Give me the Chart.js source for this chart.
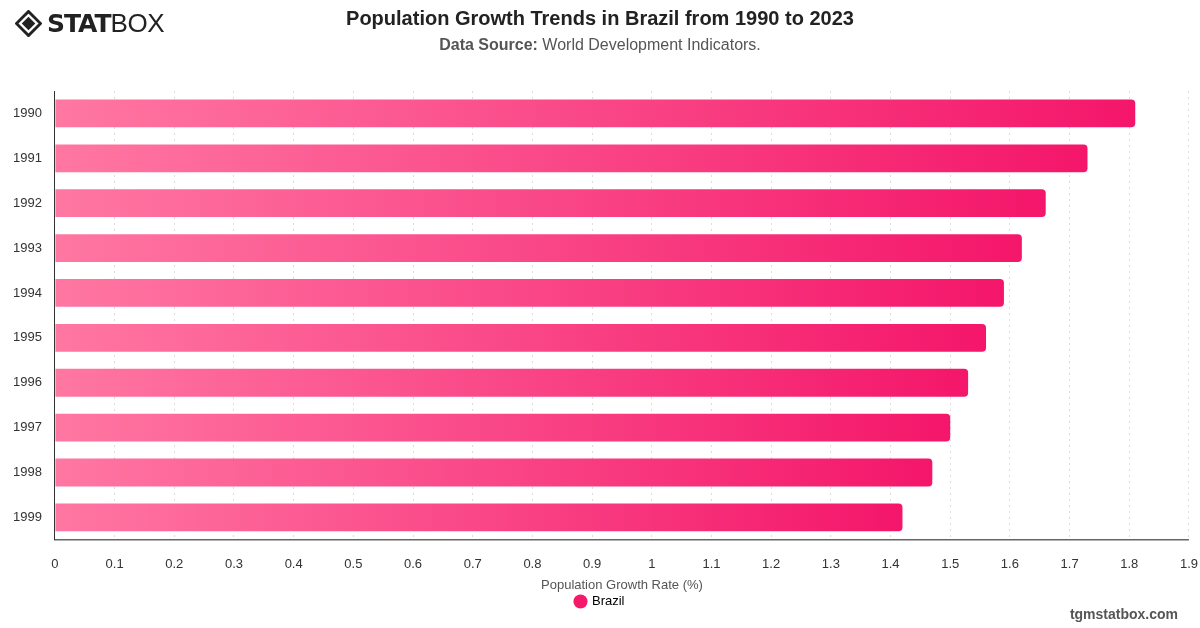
<!DOCTYPE html>
<html>
<head>
<meta charset="utf-8">
<script src="https://cdn.jsdelivr.net/npm/chart.js@4/dist/chart.umd.min.js"></script>
<style>
  html, body { margin:0; padding:0; background:#fff; }
  body { width:1200px; height:628px; position:relative; overflow:hidden; font-family:"Liberation Sans", Arial, sans-serif; }
  #wrap { position:absolute; left:0; top:0; width:1200px; height:628px; overflow:hidden; }
  .logo { position:absolute; left:15px; top:8px; height:30px; display:flex; align-items:center; color:#222; }
  .logo svg { margin-right:5px; }
  .logo .stat { font-family:"DejaVu Sans", sans-serif; font-weight:bold; font-size:25px; letter-spacing:-1px; }
  .logo .box { font-family:"Liberation Sans", sans-serif; font-size:26px; letter-spacing:-0.5px; }
  .title { position:absolute; left:0; width:1200px; top:7px; text-align:center; font-size:20px; font-weight:bold; color:#222; }
  .sub { position:absolute; left:0; width:1200px; top:36px; text-align:center; font-size:16px; color:#555; }
  .sub b { color:#555; }
  .foot { position:absolute; right:22px; top:606px; font-size:14px; font-weight:bold; color:#555; }
</style>
</head>
<body>
<!-- canvas a bit wider than the page: the extra strip on the right is cut off -->
<div id="wrap"><canvas id="popChart" width="1215" height="628"></canvas></div>
<div class="logo">
  <svg width="27" height="27" viewBox="0 0 28 28">
    <path d="M14 1.5 L26.5 14 L14 26.5 L1.5 14 Z" fill="none" stroke="#222" stroke-width="3"/>
    <path d="M14 7 L21 14 L14 21 L7 14 Z" fill="#222"/>
  </svg>
  <span class="stat">STAT</span><span class="box">BOX</span>
</div>
<div class="title">Population Growth Trends in Brazil from 1990 to 2023</div>
<div class="sub"><b>Data Source:</b> World Development Indicators.</div>
<div class="foot">tgmstatbox.com</div>
<script>
const ctx = document.getElementById('popChart');

// data
const tahun = ['1990','1991','1992','1993','1994','1995','1996','1997','1998','1999'];
const growthBrazil = [1.81, 1.73, 1.66, 1.62, 1.59, 1.56, 1.53, 1.50, 1.47, 1.42];
const xTicks = [0,0.1,0.2,0.3,0.4,0.5,0.6,0.7,0.8,0.9,1,1.1,1.2,1.3,1.4,1.5,1.6,1.7,1.8,1.9];

// gradient per bar, left light pink -> right deep pink
function barGradient(c){
  const chart = c.chart;
  const area = chart.chartArea;
  if(!area || !chart.scales.x || c.raw == null) return '#f5196c';
  const x0 = chart.scales.x.getPixelForValue(0);
  const x1 = chart.scales.x.getPixelForValue(c.raw);
  if(!isFinite(x0) || !isFinite(x1) || x1 <= x0) return '#f5196c';
  const g = chart.ctx.createLinearGradient(x0, 0, x1, 0);
  g.addColorStop(0, '#ff77a3');
  g.addColorStop(1, '#f4166a');
  return g;
}

const fontFam = '"Liberation Sans", Arial, sans-serif';

const chartPop = new Chart(ctx, {
  type: 'bar',
  data: {
    labels: tahun,
    datasets: [{
      label: 'Brazil',
      data: growthBrazil,
      backgroundColor: barGradient,
      borderRadius: 4,
      borderSkipped: 'start',
      barPercentage: 0.62,
      categoryPercentage: 1
    }]
  },
  options: {
    indexAxis: 'y',
    responsive: false,
    animation: false,
    layout: { padding: { top: 91, left: 0, right: 15, bottom: 10 } },
    plugins: {
      legend: {
        position: 'bottom',
        align: 'center',
        labels: {
          usePointStyle: true,
          pointStyle: 'circle',
          boxWidth: 10,
          boxHeight: 10,
          padding: 2,
          color: '#222',
          font: { family: fontFam, size: 13 },
          generateLabels: () => [{
            text: 'Brazil', fillStyle: '#f5196c', strokeStyle: '#f5196c',
            lineWidth: 0, pointStyle: 'circle', datasetIndex: 0
          }]
        }
      },
      tooltip: { enabled: false }
    },
    scales: {
      x: {
        min: 0,
        max: 1.9,
        afterBuildTicks: (s) => { s.ticks = xTicks.map(v => ({ value: v })); },
        ticks: {
          color: '#333',
          padding: 17,
          maxRotation: 0,
          font: { family: fontFam, size: 13 },
          callback: (v) => String(v)
        },
        grid: { color: '#dddddd', drawTicks: false },
        border: { display: true, color: '#666', width: 1.5, dash: [2, 4] },
        title: {
          display: true,
          text: 'Population Growth Rate (%)',
          color: '#555',
          padding: { top: -12, bottom: 0 },
          font: { family: fontFam, size: 13 }
        }
      },
      y: {
        ticks: {
          color: '#333',
          padding: 13,
          font: { family: fontFam, size: 13 }
        },
        grid: { display: false, drawTicks: false },
        border: { display: true, color: '#333', width: 1 }
      }
    }
  }
});
</script>
</body>
</html>
